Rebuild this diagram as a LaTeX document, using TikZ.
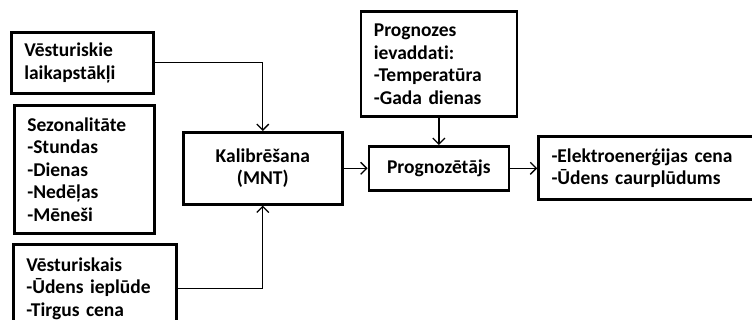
\documentclass[tikz,border=0pt]{standalone}
\usepackage{fontspec}
\setmainfont{Carlito}[Ligatures=NoCommon]
\usetikzlibrary{arrows.meta, positioning}

\begin{document}
\begin{tikzpicture}[
    x=1pt, y=-1pt,
    box/.style={rectangle, draw, line width=2.6pt, inner xsep=13pt, inner ysep=0pt,
                align=left, anchor=north west,
                font=\bfseries\fontsize{19.5}{22.5}\selectfont},
    arrow/.style={-{Straight Barb[length=6pt, width=12pt]}, line width=1.3pt}
  ]
    \useasboundingbox (0,0) rectangle (752,320);
    \node[box, text width=116pt, minimum height=61pt]  (weather) at (10,31)  {Vēsturiskie\\laikapstākļi};
    \node[box, text width=114pt, minimum height=128pt] (season)  at (13,104) {Sezonalitāte\\-Stundas\\-Dienas\\-Nedēļas\\-Mēneši};
    \node[box, text width=137pt, minimum height=89pt]  (history) at (12,243) {Vēsturiskais\\-Ūdens ieplūde\\-Tirgus cena};
    \node[box, text width=133pt, minimum height=72pt, align=center] (calib) at (182,131) {Kalibrēšana\\(MNT)};
    \node[box, text width=114pt, minimum height=44pt, align=center, right=24pt of calib] (predictor) {Prognozētājs};
    \node[box, text width=214pt, minimum height=63pt, right=27pt of predictor] (result) {-Elektroenerģijas cena\\-Ūdens caurplūdums};
    \node[box, text width=130pt, minimum height=105pt, above=27pt of predictor] (inputs) {Prognozes\\ievaddati:\\-Temperatūra\\-Gada dienas};
    \draw[arrow] (weather.east) -| (calib.north);
    \draw[arrow] (history.east) -| (calib.south);
    \draw[arrow] (calib) -- (predictor);
    \draw[arrow] (inputs) -- (predictor);
    \draw[arrow] (predictor) -- (result);
  \end{tikzpicture}
\end{document}
